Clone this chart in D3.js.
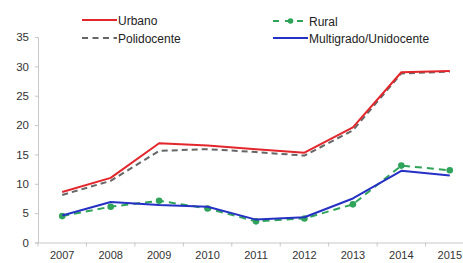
<!DOCTYPE html>
<html><head><meta charset="utf-8">
<script src="https://cdn.jsdelivr.net/npm/d3@7"></script>
<style>body{margin:0;background:#fff}svg{display:block}</style>
</head><body><svg id="c" width="463" height="263"></svg>
<script>
const years = ["2007","2008","2009","2010","2011","2012","2013","2014","2015"];
const urbano = [8.6, 11.0, 16.9, 16.5, 15.9, 15.3, 19.6, 29.0, 29.2];
const polidocente = [8.1, 10.5, 15.6, 15.9, 15.4, 14.8, 19.1, 28.8, 29.1];
const rural = [4.5, 6.1, 7.1, 5.8, 3.6, 4.1, 6.5, 13.1, 12.3];
const multigrado = [4.6, 6.9, 6.4, 6.1, 3.9, 4.3, 7.5, 12.2, 11.4];
const yTicks = [0,5,10,15,20,25,30,35];

const svg = d3.select("#c");
const x = d3.scaleBand().domain(years).range([38, 474]);
const y = d3.scaleLinear().domain([0,35]).range([242.5, 37]);
const font = "'Liberation Sans', Arial, sans-serif";

// axes
const ya = svg.append("g").attr("transform","translate(38,0)")
  .call(d3.axisLeft(y).tickValues(yTicks).tickSize(3).tickPadding(6));
ya.select(".domain").attr("stroke","#c8c8c8");
ya.selectAll(".tick line").attr("stroke","#c8c8c8");
ya.selectAll("text").attr("fill","#333").style("font-family",font).style("font-size","11.5px");

const xa = svg.append("g").attr("transform","translate(0,242.5)")
  .call(d3.axisBottom(x).tickSize(0).tickPadding(9));
xa.select(".domain").attr("stroke","#c8c8c8");
xa.selectAll("text").attr("fill","#333").style("font-family",font).style("font-size","11px");
// boundary ticks
xa.selectAll(".bt").data(years).enter().append("line")
  .attr("x1",d=>x(d)).attr("x2",d=>x(d)).attr("y1",0).attr("y2",4)
  .attr("stroke","#c8c8c8");

const cx = d => x(d) + x.bandwidth()/2;
const line = d3.line().x((d,i)=>cx(years[i])).y(d=>y(d));

const series = [
  {name:"Urbano", data:urbano, color:"#e3262b", dash:null, w:2},
  {name:"Polidocente", data:polidocente, color:"#666", dash:"6,4", w:2},
  {name:"Rural", data:rural, color:"#2fa35a", dash:"7,5", w:2, marker:true},
  {name:"Multigrado/Unidocente", data:multigrado, color:"#2530c4", dash:null, w:2}
];
const order = [series[1], series[0], series[2], series[3]];
order.forEach(s=>{
  svg.append("path").datum(s.data).attr("d",line).attr("fill","none")
    .attr("stroke",s.color).attr("stroke-width",s.w)
    .attr("stroke-dasharray",s.dash).attr("stroke-linejoin","round");
  if(s.marker){
    svg.selectAll(null).data(s.data).enter().append("circle")
      .attr("cx",(d,i)=>cx(years[i])).attr("cy",d=>y(d)).attr("r",3.3)
      .attr("fill",s.color);
  }
});

// legend
const leg = [
  {s:series[0], x:82, y:20},
  {s:series[1], x:82, y:38},
  {s:series[2], x:273, y:21},
  {s:series[3], x:273, y:38}
];
leg.forEach(l=>{
  const g = svg.append("g");
  g.append("line").attr("x1",l.x).attr("x2",l.x+35).attr("y1",l.y).attr("y2",l.y)
    .attr("stroke",l.s.color).attr("stroke-width",2)
    .attr("stroke-dasharray",l.s.dash ? (l.s.marker?"6,6":"6,4.5") : null);
  if(l.s.marker) g.append("circle").attr("cx",l.x+17.5).attr("cy",l.y).attr("r",2.8).attr("fill",l.s.color);
  g.append("text").attr("x",l.x+36).attr("y",l.y+4.5).text(l.s.name)
    .attr("fill","#222").style("font-family",font).style("font-size","12px");
});
</script></body></html>
